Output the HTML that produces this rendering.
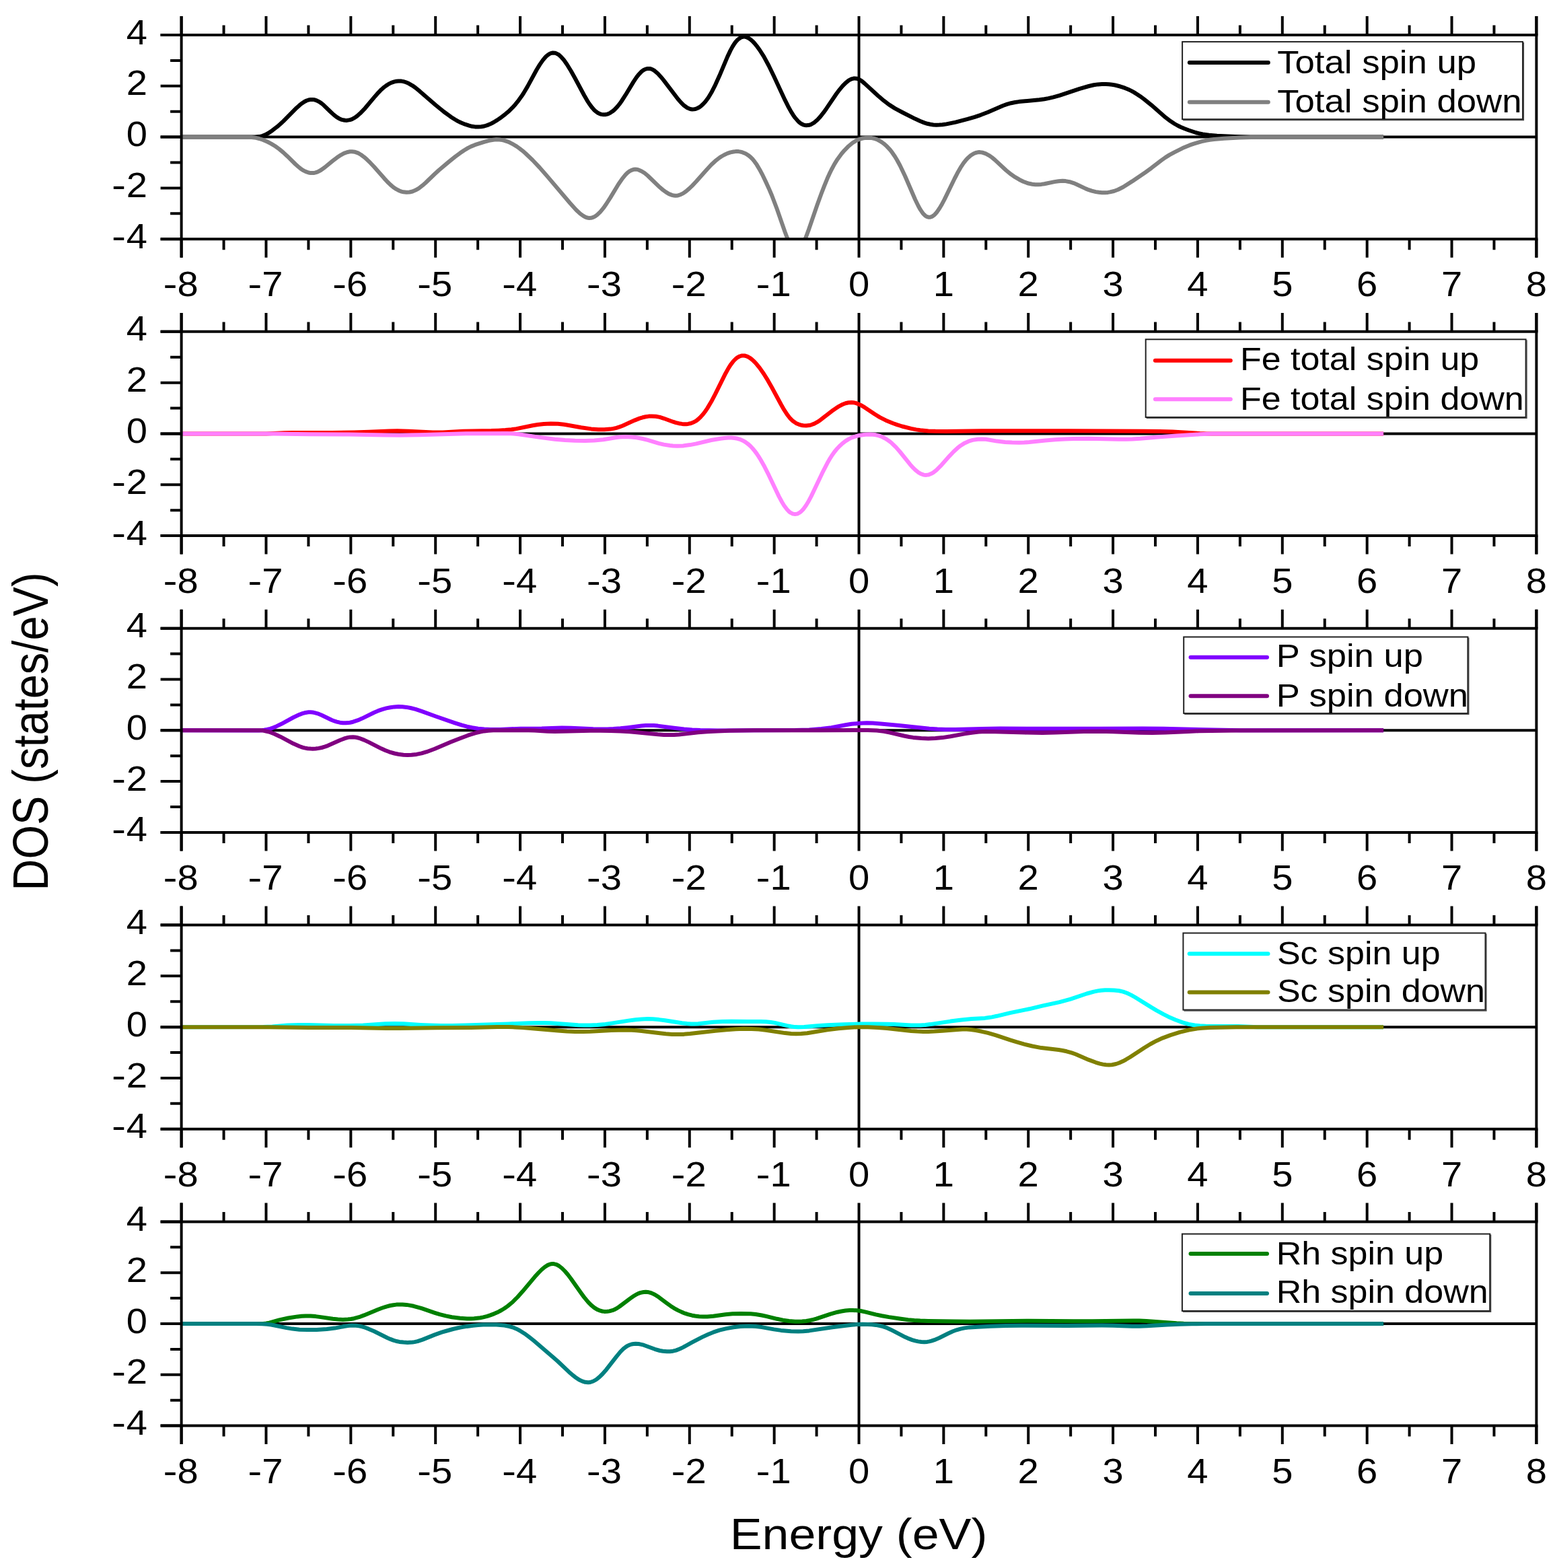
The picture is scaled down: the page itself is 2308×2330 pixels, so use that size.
<!DOCTYPE html>
<html><head><meta charset="utf-8"><title>DOS</title>
<style>html,body{margin:0;padding:0;background:#fff;}svg{display:block;}</style>
</head><body>
<svg width="2308" height="2330" viewBox="0 0 2308 2330">
<rect width="100%" height="100%" fill="#ffffff"/>
<g font-family="'Liberation Sans', Arial, sans-serif" fill="#000">
<clipPath id="c0"><rect x="269.6" y="52.0" width="2013.8" height="303.2"/></clipPath>
<line x1="238.6" y1="203.60" x2="2283.4" y2="203.60" stroke="#000" stroke-width="4.0"/>
<line x1="1276.5" y1="52.0" x2="1276.5" y2="355.2" stroke="#000" stroke-width="4.0"/>
<g clip-path="url(#c0)" fill="none" stroke-width="6.0" stroke-linejoin="round" stroke-linecap="butt">
<path d="M269.6 203.6 L379.1 203.6 L385.1 203.1 L389.6 202.1 L394.1 200.4 L398.6 198.0 L404.6 193.9 L412.1 188.2 L416.6 184.3 L421.1 180.1 L440.6 160.4 L445.1 156.4 L448.1 154.0 L452.6 151.0 L455.6 149.5 L458.6 148.5 L461.6 147.9 L464.6 147.9 L467.6 148.3 L470.6 149.3 L475.1 151.7 L478.1 153.8 L481.1 156.3 L491.6 166.5 L496.1 170.6 L500.6 174.1 L503.6 175.9 L508.1 177.9 L512.6 178.8 L515.6 178.9 L520.1 178.1 L523.1 177.1 L527.6 174.7 L530.6 172.5 L535.1 168.6 L542.6 160.8 L557.6 142.9 L562.1 137.8 L566.6 133.2 L571.1 129.3 L574.1 127.1 L577.1 125.2 L581.6 122.9 L586.1 121.4 L589.1 120.8 L592.1 120.5 L596.6 120.6 L599.6 121.1 L602.6 122.0 L607.1 123.8 L613.1 127.3 L617.6 130.5 L623.6 135.4 L647.6 156.2 L659.6 166.0 L670.1 173.7 L676.1 177.5 L680.6 180.1 L685.1 182.3 L691.1 184.7 L697.1 186.6 L701.6 187.8 L706.1 188.4 L710.6 188.6 L715.1 188.3 L719.6 187.5 L724.1 186.1 L728.6 184.3 L733.1 182.0 L739.1 178.4 L745.1 174.2 L751.1 169.6 L757.1 164.4 L761.6 159.9 L766.1 154.9 L770.6 149.3 L775.1 143.1 L778.1 138.5 L784.1 128.4 L797.6 103.5 L802.1 96.1 L806.6 89.6 L811.1 84.3 L814.1 81.7 L817.1 79.8 L818.6 79.2 L821.6 78.5 L824.6 78.7 L826.1 79.1 L829.1 80.6 L830.6 81.6 L833.6 84.2 L838.1 89.3 L842.6 95.7 L848.6 105.5 L854.6 116.3 L868.1 141.5 L872.6 149.3 L875.6 154.0 L880.1 160.1 L883.1 163.5 L884.6 164.9 L887.6 167.2 L889.1 168.1 L892.1 169.4 L893.6 169.9 L896.6 170.3 L899.6 170.2 L902.6 169.6 L904.1 169.1 L907.1 167.6 L910.1 165.6 L913.1 163.1 L917.6 158.4 L920.6 154.7 L923.6 150.5 L929.6 141.2 L941.6 121.4 L946.1 114.7 L949.1 110.8 L953.6 106.2 L956.6 104.0 L959.6 102.6 L962.6 101.9 L965.6 102.0 L967.1 102.3 L970.1 103.5 L973.1 105.4 L977.6 109.3 L982.1 114.2 L986.6 119.6 L1007.6 147.2 L1012.1 152.4 L1016.6 156.8 L1021.1 160.0 L1024.1 161.4 L1027.1 162.3 L1028.6 162.4 L1031.6 162.3 L1033.1 162.1 L1036.1 161.0 L1039.1 159.5 L1042.1 157.3 L1045.1 154.6 L1048.1 151.3 L1052.6 145.2 L1057.1 137.8 L1063.1 126.1 L1069.1 112.8 L1081.1 84.4 L1085.6 74.9 L1088.6 69.4 L1091.6 64.6 L1093.1 62.6 L1096.1 59.2 L1097.6 57.9 L1100.6 55.9 L1102.1 55.2 L1105.1 54.6 L1106.6 54.6 L1109.6 55.2 L1112.6 56.7 L1115.6 58.7 L1118.6 61.4 L1121.6 64.6 L1124.6 68.3 L1129.1 74.5 L1135.1 83.9 L1142.6 97.7 L1150.1 113.2 L1166.6 148.7 L1171.1 157.7 L1175.6 165.9 L1178.6 170.7 L1181.6 174.9 L1186.1 180.1 L1187.6 181.5 L1190.6 183.8 L1193.6 185.3 L1196.6 186.1 L1198.1 186.3 L1201.1 186.1 L1202.6 185.8 L1205.6 184.8 L1210.1 182.1 L1214.6 178.2 L1219.1 173.4 L1223.6 167.7 L1228.1 161.4 L1243.1 139.3 L1247.6 133.3 L1252.1 127.9 L1256.6 123.3 L1261.1 119.7 L1264.1 118.0 L1265.6 117.4 L1268.6 116.6 L1270.1 116.5 L1273.1 116.7 L1274.6 117.1 L1277.6 118.5 L1280.6 120.4 L1285.1 124.1 L1304.6 142.0 L1313.6 149.7 L1321.1 155.4 L1330.1 161.1 L1342.1 167.5 L1360.1 176.6 L1367.6 180.0 L1373.6 182.4 L1378.1 183.8 L1382.6 184.8 L1387.1 185.5 L1391.6 185.7 L1396.1 185.6 L1400.6 185.3 L1406.6 184.4 L1420.1 181.6 L1438.1 176.9 L1448.6 173.8 L1457.6 170.8 L1468.1 166.7 L1490.6 157.0 L1496.6 154.9 L1502.6 153.2 L1508.6 152.0 L1514.6 151.1 L1544.6 148.2 L1552.1 147.2 L1558.1 146.1 L1565.6 144.4 L1574.6 141.9 L1604.6 131.8 L1618.1 128.0 L1625.6 126.3 L1631.6 125.4 L1637.6 125.0 L1643.6 125.0 L1648.1 125.2 L1652.6 125.8 L1657.1 126.5 L1663.1 128.0 L1667.6 129.3 L1672.1 130.9 L1676.6 132.8 L1681.1 134.9 L1685.6 137.4 L1690.1 140.2 L1694.6 143.2 L1700.6 147.6 L1711.1 156.1 L1732.1 174.4 L1739.6 180.1 L1745.6 184.0 L1750.1 186.5 L1754.6 188.7 L1760.6 191.2 L1766.6 193.5 L1777.1 197.0 L1781.6 198.2 L1787.6 199.4 L1796.6 200.8 L1808.6 201.8 L1835.6 202.9 L1858.1 203.4 L1880.6 203.6 L2056.1 203.6" stroke="#000000"/>
<path d="M269.6 203.6 L367.1 203.6 L371.6 203.8 L376.1 204.2 L380.6 204.9 L385.1 206.0 L391.1 207.9 L397.1 210.5 L403.1 213.6 L409.1 217.3 L415.1 221.6 L421.1 226.6 L427.1 232.2 L439.1 244.0 L443.6 248.0 L446.6 250.4 L451.1 253.4 L454.1 254.9 L458.6 256.5 L461.6 257.1 L466.1 257.1 L469.1 256.4 L472.1 255.4 L476.6 253.0 L482.6 248.8 L494.6 238.9 L500.6 234.3 L506.6 230.3 L511.1 227.9 L515.6 226.2 L520.1 225.3 L523.1 225.2 L527.6 225.8 L532.1 227.4 L536.6 230.0 L541.1 233.3 L545.6 237.3 L550.1 241.7 L556.1 248.0 L571.1 265.1 L575.6 270.0 L580.1 274.4 L584.6 278.2 L589.1 281.2 L593.6 283.5 L596.6 284.6 L599.6 285.3 L604.1 285.8 L608.6 285.5 L613.1 284.5 L617.6 282.6 L620.6 280.9 L623.6 278.9 L628.1 275.4 L632.6 271.5 L646.1 258.5 L652.1 253.0 L667.1 240.4 L676.1 233.2 L683.6 227.6 L689.6 223.5 L695.6 219.9 L700.1 217.6 L706.1 215.2 L719.6 210.8 L727.1 208.8 L733.1 207.7 L737.6 207.3 L742.1 207.5 L746.6 208.1 L749.6 208.8 L754.1 210.3 L758.6 212.3 L763.1 214.7 L767.6 217.4 L772.1 220.6 L776.6 224.1 L781.1 228.0 L791.6 238.0 L802.1 249.1 L814.1 262.9 L847.1 301.8 L856.1 311.7 L862.1 317.4 L866.6 320.7 L869.6 322.4 L871.1 323.0 L874.1 323.8 L875.6 324.0 L878.6 323.8 L880.1 323.4 L883.1 322.2 L884.6 321.4 L887.6 319.2 L892.1 314.8 L896.6 309.4 L901.1 303.0 L907.1 293.6 L919.1 273.8 L925.1 265.1 L929.6 259.7 L932.6 256.7 L935.6 254.4 L938.6 252.8 L941.6 251.8 L943.1 251.6 L946.1 251.7 L949.1 252.4 L953.6 254.4 L958.1 257.3 L962.6 261.0 L980.6 278.3 L985.1 282.1 L989.6 285.4 L994.1 288.1 L998.6 289.9 L1001.6 290.6 L1003.1 290.7 L1004.6 290.7 L1007.6 290.4 L1010.6 289.5 L1015.1 287.4 L1019.6 284.2 L1024.1 280.4 L1028.6 276.1 L1034.6 269.8 L1051.1 251.2 L1057.1 244.8 L1063.1 239.2 L1069.1 234.5 L1072.1 232.5 L1076.6 230.0 L1081.1 227.9 L1085.6 226.4 L1090.1 225.5 L1093.1 225.1 L1097.6 225.1 L1100.6 225.6 L1103.6 226.4 L1108.1 228.3 L1112.6 231.1 L1115.6 233.6 L1118.6 236.7 L1121.6 240.4 L1124.6 244.6 L1129.1 252.2 L1133.6 260.7 L1138.1 270.1 L1142.6 279.9 L1147.1 290.5 L1154.6 310.3 L1166.6 344.7 L1169.6 352.7 L1172.6 359.8 L1175.6 365.8 L1177.1 368.2 L1178.6 370.1 L1180.1 371.6 L1181.6 372.5 L1183.1 372.9 L1184.6 372.9 L1186.1 372.2 L1187.6 371.1 L1189.1 369.5 L1192.1 364.9 L1195.1 358.8 L1198.1 351.5 L1201.1 343.4 L1214.6 304.3 L1220.6 287.8 L1225.1 276.1 L1229.6 265.1 L1232.6 258.4 L1235.6 252.2 L1240.1 243.9 L1244.6 236.7 L1250.6 228.5 L1255.1 223.3 L1261.1 217.2 L1267.1 212.3 L1271.6 209.4 L1276.1 207.3 L1279.1 206.3 L1282.1 205.5 L1286.6 204.9 L1292.6 204.8 L1295.6 205.1 L1298.6 205.7 L1303.1 207.2 L1307.6 209.5 L1310.6 211.4 L1313.6 213.6 L1318.1 217.6 L1322.6 222.4 L1325.6 226.2 L1330.1 232.7 L1333.1 237.7 L1337.6 246.0 L1345.1 261.7 L1360.1 296.5 L1364.6 305.8 L1367.6 311.2 L1370.6 315.7 L1372.1 317.6 L1375.1 320.5 L1376.6 321.5 L1378.1 322.2 L1379.6 322.7 L1381.1 322.8 L1382.6 322.7 L1384.1 322.2 L1385.6 321.5 L1388.6 319.3 L1391.6 316.2 L1396.1 309.8 L1399.1 304.8 L1403.6 296.4 L1418.6 265.5 L1423.1 256.8 L1427.6 248.9 L1432.1 242.1 L1435.1 238.3 L1438.1 234.9 L1442.6 231.0 L1447.1 228.2 L1450.1 227.0 L1453.1 226.3 L1456.1 226.1 L1460.6 226.8 L1465.1 228.4 L1469.6 230.8 L1474.1 233.9 L1478.6 237.6 L1495.1 253.0 L1502.6 259.1 L1508.6 263.2 L1514.6 266.7 L1520.6 269.7 L1526.6 272.0 L1529.6 272.8 L1534.1 273.7 L1538.6 274.2 L1543.1 274.2 L1547.6 273.9 L1552.1 273.2 L1567.1 270.1 L1573.1 269.2 L1579.1 268.8 L1583.6 269.1 L1589.6 270.2 L1595.6 272.1 L1600.1 274.0 L1613.6 280.4 L1618.1 282.2 L1622.6 283.7 L1628.6 285.1 L1633.1 285.8 L1637.6 286.2 L1642.1 286.2 L1646.6 285.9 L1649.6 285.4 L1655.6 284.0 L1661.6 281.8 L1669.1 278.0 L1682.6 269.4 L1702.1 256.2 L1711.1 249.7 L1726.1 238.1 L1732.1 233.9 L1738.1 230.1 L1745.6 226.1 L1757.6 220.1 L1768.1 215.7 L1774.1 213.6 L1780.1 211.8 L1786.1 210.2 L1792.1 208.8 L1798.1 207.8 L1804.1 207.0 L1819.1 205.7 L1841.6 204.6 L1868.6 203.8 L1883.6 203.6 L2056.1 203.6" stroke="#808080"/>
</g>
<line x1="238.6" y1="52.00" x2="2285.4" y2="52.00" stroke="#000" stroke-width="4.0"/>
<line x1="238.6" y1="355.20" x2="2285.4" y2="355.20" stroke="#000" stroke-width="4.0"/>
<line x1="269.62" y1="24.0" x2="269.62" y2="382.7" stroke="#000" stroke-width="4.0"/>
<line x1="2283.38" y1="24.0" x2="2283.38" y2="382.7" stroke="#000" stroke-width="4.0"/>
<path d="M269.62 24.0V52.0M269.62 355.2V382.7M332.55 37.5V52.0M332.55 355.2V371.2M395.48 24.0V52.0M395.48 355.2V382.7M458.41 37.5V52.0M458.41 355.2V371.2M521.34 24.0V52.0M521.34 355.2V382.7M584.27 37.5V52.0M584.27 355.2V371.2M647.20 24.0V52.0M647.20 355.2V382.7M710.13 37.5V52.0M710.13 355.2V371.2M773.06 24.0V52.0M773.06 355.2V382.7M835.99 37.5V52.0M835.99 355.2V371.2M898.92 24.0V52.0M898.92 355.2V382.7M961.85 37.5V52.0M961.85 355.2V371.2M1024.78 24.0V52.0M1024.78 355.2V382.7M1087.71 37.5V52.0M1087.71 355.2V371.2M1150.64 24.0V52.0M1150.64 355.2V382.7M1213.57 37.5V52.0M1213.57 355.2V371.2M1276.50 24.0V52.0M1276.50 355.2V382.7M1339.43 37.5V52.0M1339.43 355.2V371.2M1402.36 24.0V52.0M1402.36 355.2V382.7M1465.29 37.5V52.0M1465.29 355.2V371.2M1528.22 24.0V52.0M1528.22 355.2V382.7M1591.15 37.5V52.0M1591.15 355.2V371.2M1654.08 24.0V52.0M1654.08 355.2V382.7M1717.01 37.5V52.0M1717.01 355.2V371.2M1779.94 24.0V52.0M1779.94 355.2V382.7M1842.87 37.5V52.0M1842.87 355.2V371.2M1905.80 24.0V52.0M1905.80 355.2V382.7M1968.73 37.5V52.0M1968.73 355.2V371.2M2031.66 24.0V52.0M2031.66 355.2V382.7M2094.59 37.5V52.0M2094.59 355.2V371.2M2157.52 24.0V52.0M2157.52 355.2V382.7M2220.45 37.5V52.0M2220.45 355.2V371.2M2283.38 24.0V52.0M2283.38 355.2V382.7M238.6 355.20H269.6M253.1 317.30H269.6M238.6 279.40H269.6M253.1 241.50H269.6M238.6 203.60H269.6M253.1 165.70H269.6M238.6 127.80H269.6M253.1 89.90H269.6M238.6 52.00H269.6" stroke="#000" stroke-width="4.0" fill="none"/>
<text transform="translate(219.0 65.5) scale(1.100 1)" font-size="51.0" text-anchor="end" >4</text>
<text transform="translate(219.0 141.3) scale(1.100 1)" font-size="51.0" text-anchor="end" >2</text>
<text transform="translate(219.0 217.1) scale(1.100 1)" font-size="51.0" text-anchor="end" >0</text>
<text transform="translate(219.0 292.9) scale(1.100 1)" font-size="51.0" text-anchor="end" >2</text>
<text transform="translate(166.1 292.9) scale(1.240 1)" font-size="51.0" text-anchor="start" >-</text>
<text transform="translate(219.0 368.7) scale(1.100 1)" font-size="51.0" text-anchor="end" >4</text>
<text transform="translate(166.1 368.7) scale(1.240 1)" font-size="51.0" text-anchor="start" >-</text>
<text transform="translate(279.0 440.2) scale(1.100 1)" font-size="51.0" text-anchor="middle" >8</text>
<text transform="translate(242.4 440.2) scale(1.240 1)" font-size="51.0" text-anchor="start" >-</text>
<text transform="translate(404.9 440.2) scale(1.100 1)" font-size="51.0" text-anchor="middle" >7</text>
<text transform="translate(368.3 440.2) scale(1.240 1)" font-size="51.0" text-anchor="start" >-</text>
<text transform="translate(530.7 440.2) scale(1.100 1)" font-size="51.0" text-anchor="middle" >6</text>
<text transform="translate(494.1 440.2) scale(1.240 1)" font-size="51.0" text-anchor="start" >-</text>
<text transform="translate(656.6 440.2) scale(1.100 1)" font-size="51.0" text-anchor="middle" >5</text>
<text transform="translate(620.0 440.2) scale(1.240 1)" font-size="51.0" text-anchor="start" >-</text>
<text transform="translate(782.5 440.2) scale(1.100 1)" font-size="51.0" text-anchor="middle" >4</text>
<text transform="translate(745.9 440.2) scale(1.240 1)" font-size="51.0" text-anchor="start" >-</text>
<text transform="translate(908.3 440.2) scale(1.100 1)" font-size="51.0" text-anchor="middle" >3</text>
<text transform="translate(871.7 440.2) scale(1.240 1)" font-size="51.0" text-anchor="start" >-</text>
<text transform="translate(1034.2 440.2) scale(1.100 1)" font-size="51.0" text-anchor="middle" >2</text>
<text transform="translate(997.6 440.2) scale(1.240 1)" font-size="51.0" text-anchor="start" >-</text>
<text transform="translate(1160.0 440.2) scale(1.100 1)" font-size="51.0" text-anchor="middle" >1</text>
<text transform="translate(1123.4 440.2) scale(1.240 1)" font-size="51.0" text-anchor="start" >-</text>
<text transform="translate(1276.5 440.2) scale(1.100 1)" font-size="51.0" text-anchor="middle" >0</text>
<text transform="translate(1402.4 440.2) scale(1.100 1)" font-size="51.0" text-anchor="middle" >1</text>
<text transform="translate(1528.2 440.2) scale(1.100 1)" font-size="51.0" text-anchor="middle" >2</text>
<text transform="translate(1654.1 440.2) scale(1.100 1)" font-size="51.0" text-anchor="middle" >3</text>
<text transform="translate(1779.9 440.2) scale(1.100 1)" font-size="51.0" text-anchor="middle" >4</text>
<text transform="translate(1905.8 440.2) scale(1.100 1)" font-size="51.0" text-anchor="middle" >5</text>
<text transform="translate(2031.7 440.2) scale(1.100 1)" font-size="51.0" text-anchor="middle" >6</text>
<text transform="translate(2157.5 440.2) scale(1.100 1)" font-size="51.0" text-anchor="middle" >7</text>
<text transform="translate(2283.4 440.2) scale(1.100 1)" font-size="51.0" text-anchor="middle" >8</text>
<rect x="1757.1" y="62.1" width="505.9" height="115.1" fill="#fff" stroke="#222" stroke-width="2"/>
<path d="M1758.1 178.5H2264.3V63.1" fill="none" stroke="#444" stroke-width="1.5"/>
<line x1="1767.8" y1="93.0" x2="1884.8" y2="93.0" stroke="#000000" stroke-width="6.0" stroke-linecap="round"/>
<line x1="1767.8" y1="151.7" x2="1884.8" y2="151.7" stroke="#808080" stroke-width="6.0" stroke-linecap="round"/>
<text transform="translate(1898.2 108.9) scale(1.076 1)" font-size="49.0" text-anchor="start" >Total spin up</text>
<text transform="translate(1898.2 167.2) scale(1.076 1)" font-size="49.0" text-anchor="start" >Total spin down</text>
<clipPath id="c1"><rect x="269.6" y="492.9" width="2013.8" height="303.2"/></clipPath>
<line x1="238.6" y1="644.45" x2="2283.4" y2="644.45" stroke="#000" stroke-width="4.0"/>
<line x1="1276.5" y1="492.9" x2="1276.5" y2="796.0" stroke="#000" stroke-width="4.0"/>
<g clip-path="url(#c1)" fill="none" stroke-width="6.0" stroke-linejoin="round" stroke-linecap="butt">
<path d="M269.6 644.5 L395.6 644.4 L422.6 643.3 L434.6 643.0 L493.1 642.9 L526.1 642.5 L548.6 641.8 L578.6 640.6 L590.6 640.3 L607.1 640.7 L643.1 642.5 L658.1 642.5 L688.1 640.7 L730.1 640.1 L740.6 639.7 L751.1 639.1 L760.1 638.2 L767.6 637.1 L791.6 632.2 L799.1 631.0 L808.1 630.0 L818.6 629.6 L829.1 629.8 L838.1 630.7 L844.1 631.7 L863.6 635.3 L878.6 637.4 L889.1 638.2 L898.1 638.3 L907.1 637.6 L911.6 636.9 L916.1 635.8 L920.6 634.4 L925.1 632.7 L943.1 624.6 L950.6 621.6 L955.1 620.3 L959.6 619.3 L964.1 618.6 L968.6 618.4 L974.6 618.8 L980.6 619.9 L986.6 621.8 L1000.1 626.7 L1004.6 628.1 L1009.1 629.2 L1013.6 629.9 L1016.6 630.2 L1019.6 630.2 L1022.6 629.9 L1025.6 629.3 L1028.6 628.4 L1031.6 627.0 L1034.6 625.3 L1037.6 623.0 L1040.6 620.3 L1045.1 615.3 L1048.1 611.3 L1051.1 606.9 L1057.1 596.8 L1063.1 585.4 L1078.1 555.2 L1082.6 547.1 L1085.6 542.4 L1090.1 536.5 L1093.1 533.5 L1094.6 532.2 L1096.1 531.1 L1099.1 529.5 L1102.1 528.6 L1105.1 528.4 L1106.6 528.5 L1109.6 529.3 L1112.6 530.7 L1115.6 532.6 L1118.6 535.1 L1121.6 538.0 L1124.6 541.3 L1129.1 546.9 L1135.1 555.5 L1141.1 565.2 L1147.1 575.8 L1160.6 600.8 L1165.1 608.7 L1169.6 615.7 L1174.1 621.5 L1178.6 625.8 L1183.1 628.9 L1187.6 630.8 L1190.6 631.7 L1193.6 632.3 L1198.1 632.5 L1202.6 632.1 L1205.6 631.3 L1210.1 629.6 L1214.6 627.2 L1219.1 624.2 L1238.6 609.2 L1243.1 606.1 L1247.6 603.3 L1252.1 601.0 L1256.6 599.3 L1261.1 598.3 L1265.6 598.0 L1268.6 598.3 L1271.6 598.9 L1274.6 599.9 L1279.1 601.9 L1285.1 605.4 L1300.1 615.5 L1307.6 620.1 L1316.6 624.7 L1327.1 629.0 L1333.1 631.1 L1340.6 633.5 L1354.1 636.9 L1361.6 638.4 L1367.6 639.3 L1379.6 640.4 L1390.1 640.8 L1406.6 640.9 L1459.1 640.3 L1586.6 640.3 L1702.1 640.7 L1723.1 641.0 L1742.6 641.6 L1759.1 642.4 L1783.1 644.1 L1793.6 644.5 L2056.1 644.5" stroke="#ff0000"/>
<path d="M269.6 644.5 L403.1 644.5 L460.1 645.2 L518.6 645.6 L571.1 646.5 L593.6 646.7 L623.6 646.3 L692.6 644.3 L754.1 644.1 L763.1 644.5 L770.6 645.3 L802.1 649.9 L824.6 652.7 L839.6 654.0 L854.6 654.8 L869.6 654.9 L883.1 654.4 L896.6 653.2 L914.6 650.3 L920.6 649.6 L929.6 649.1 L938.6 649.4 L946.1 650.2 L955.1 652.0 L962.6 653.9 L979.1 658.8 L986.6 660.6 L995.6 662.0 L1000.1 662.4 L1006.1 662.7 L1015.1 662.4 L1025.6 661.1 L1034.6 659.4 L1057.1 654.0 L1070.6 651.7 L1076.6 651.0 L1082.6 650.6 L1087.1 650.6 L1091.6 651.0 L1096.1 651.8 L1100.6 653.2 L1105.1 655.2 L1108.1 657.1 L1112.6 660.5 L1115.6 663.3 L1118.6 666.5 L1121.6 670.1 L1124.6 674.1 L1127.6 678.6 L1130.6 683.5 L1135.1 691.4 L1142.6 706.2 L1157.6 737.6 L1162.1 746.0 L1165.1 751.0 L1169.6 757.0 L1172.6 760.1 L1174.1 761.3 L1177.1 763.0 L1178.6 763.6 L1181.6 764.0 L1184.6 763.6 L1186.1 763.0 L1189.1 761.2 L1190.6 760.0 L1193.6 756.9 L1198.1 750.7 L1201.1 745.8 L1205.6 737.4 L1222.1 702.7 L1229.6 688.1 L1234.1 680.3 L1237.1 675.7 L1240.1 671.5 L1243.1 667.8 L1247.6 663.0 L1252.1 658.9 L1256.6 655.4 L1261.1 652.6 L1265.6 650.4 L1270.1 648.8 L1276.1 647.2 L1282.1 646.2 L1286.6 645.8 L1292.6 645.6 L1297.1 645.8 L1301.6 646.3 L1306.1 647.4 L1310.6 649.0 L1315.1 651.3 L1318.1 653.1 L1322.6 656.3 L1325.6 658.8 L1331.6 664.6 L1337.6 671.5 L1352.6 690.2 L1357.1 695.2 L1360.1 698.1 L1364.6 701.8 L1369.1 704.3 L1372.1 705.4 L1373.6 705.7 L1376.6 705.9 L1379.6 705.5 L1381.1 705.1 L1384.1 703.8 L1387.1 702.1 L1391.6 698.6 L1397.6 692.7 L1411.1 677.6 L1417.1 671.3 L1423.1 665.7 L1427.6 662.2 L1433.6 658.4 L1439.6 655.7 L1445.6 653.9 L1453.1 652.7 L1459.1 652.4 L1465.1 652.7 L1481.6 655.6 L1493.6 657.0 L1504.1 657.6 L1514.6 657.7 L1522.1 657.5 L1529.6 657.0 L1553.6 654.5 L1568.6 653.3 L1582.1 652.5 L1595.6 651.9 L1618.1 651.7 L1663.1 652.7 L1673.6 652.7 L1682.6 652.4 L1694.6 651.7 L1723.1 649.3 L1748.6 647.6 L1783.1 645.3 L1801.1 644.6 L1819.1 644.4 L2056.1 644.5" stroke="#ff80ff"/>
</g>
<line x1="238.6" y1="492.85" x2="2285.4" y2="492.85" stroke="#000" stroke-width="4.0"/>
<line x1="238.6" y1="796.05" x2="2285.4" y2="796.05" stroke="#000" stroke-width="4.0"/>
<line x1="269.62" y1="464.9" x2="269.62" y2="823.5" stroke="#000" stroke-width="4.0"/>
<line x1="2283.38" y1="464.9" x2="2283.38" y2="823.5" stroke="#000" stroke-width="4.0"/>
<path d="M269.62 464.9V492.9M269.62 796.0V823.5M332.55 478.4V492.9M332.55 796.0V812.0M395.48 464.9V492.9M395.48 796.0V823.5M458.41 478.4V492.9M458.41 796.0V812.0M521.34 464.9V492.9M521.34 796.0V823.5M584.27 478.4V492.9M584.27 796.0V812.0M647.20 464.9V492.9M647.20 796.0V823.5M710.13 478.4V492.9M710.13 796.0V812.0M773.06 464.9V492.9M773.06 796.0V823.5M835.99 478.4V492.9M835.99 796.0V812.0M898.92 464.9V492.9M898.92 796.0V823.5M961.85 478.4V492.9M961.85 796.0V812.0M1024.78 464.9V492.9M1024.78 796.0V823.5M1087.71 478.4V492.9M1087.71 796.0V812.0M1150.64 464.9V492.9M1150.64 796.0V823.5M1213.57 478.4V492.9M1213.57 796.0V812.0M1276.50 464.9V492.9M1276.50 796.0V823.5M1339.43 478.4V492.9M1339.43 796.0V812.0M1402.36 464.9V492.9M1402.36 796.0V823.5M1465.29 478.4V492.9M1465.29 796.0V812.0M1528.22 464.9V492.9M1528.22 796.0V823.5M1591.15 478.4V492.9M1591.15 796.0V812.0M1654.08 464.9V492.9M1654.08 796.0V823.5M1717.01 478.4V492.9M1717.01 796.0V812.0M1779.94 464.9V492.9M1779.94 796.0V823.5M1842.87 478.4V492.9M1842.87 796.0V812.0M1905.80 464.9V492.9M1905.80 796.0V823.5M1968.73 478.4V492.9M1968.73 796.0V812.0M2031.66 464.9V492.9M2031.66 796.0V823.5M2094.59 478.4V492.9M2094.59 796.0V812.0M2157.52 464.9V492.9M2157.52 796.0V823.5M2220.45 478.4V492.9M2220.45 796.0V812.0M2283.38 464.9V492.9M2283.38 796.0V823.5M238.6 796.05H269.6M253.1 758.15H269.6M238.6 720.25H269.6M253.1 682.35H269.6M238.6 644.45H269.6M253.1 606.55H269.6M238.6 568.65H269.6M253.1 530.75H269.6M238.6 492.85H269.6" stroke="#000" stroke-width="4.0" fill="none"/>
<text transform="translate(219.0 506.4) scale(1.100 1)" font-size="51.0" text-anchor="end" >4</text>
<text transform="translate(219.0 582.2) scale(1.100 1)" font-size="51.0" text-anchor="end" >2</text>
<text transform="translate(219.0 658.0) scale(1.100 1)" font-size="51.0" text-anchor="end" >0</text>
<text transform="translate(219.0 733.8) scale(1.100 1)" font-size="51.0" text-anchor="end" >2</text>
<text transform="translate(166.1 733.8) scale(1.240 1)" font-size="51.0" text-anchor="start" >-</text>
<text transform="translate(219.0 809.6) scale(1.100 1)" font-size="51.0" text-anchor="end" >4</text>
<text transform="translate(166.1 809.6) scale(1.240 1)" font-size="51.0" text-anchor="start" >-</text>
<text transform="translate(279.0 881.0) scale(1.100 1)" font-size="51.0" text-anchor="middle" >8</text>
<text transform="translate(242.4 881.0) scale(1.240 1)" font-size="51.0" text-anchor="start" >-</text>
<text transform="translate(404.9 881.0) scale(1.100 1)" font-size="51.0" text-anchor="middle" >7</text>
<text transform="translate(368.3 881.0) scale(1.240 1)" font-size="51.0" text-anchor="start" >-</text>
<text transform="translate(530.7 881.0) scale(1.100 1)" font-size="51.0" text-anchor="middle" >6</text>
<text transform="translate(494.1 881.0) scale(1.240 1)" font-size="51.0" text-anchor="start" >-</text>
<text transform="translate(656.6 881.0) scale(1.100 1)" font-size="51.0" text-anchor="middle" >5</text>
<text transform="translate(620.0 881.0) scale(1.240 1)" font-size="51.0" text-anchor="start" >-</text>
<text transform="translate(782.5 881.0) scale(1.100 1)" font-size="51.0" text-anchor="middle" >4</text>
<text transform="translate(745.9 881.0) scale(1.240 1)" font-size="51.0" text-anchor="start" >-</text>
<text transform="translate(908.3 881.0) scale(1.100 1)" font-size="51.0" text-anchor="middle" >3</text>
<text transform="translate(871.7 881.0) scale(1.240 1)" font-size="51.0" text-anchor="start" >-</text>
<text transform="translate(1034.2 881.0) scale(1.100 1)" font-size="51.0" text-anchor="middle" >2</text>
<text transform="translate(997.6 881.0) scale(1.240 1)" font-size="51.0" text-anchor="start" >-</text>
<text transform="translate(1160.0 881.0) scale(1.100 1)" font-size="51.0" text-anchor="middle" >1</text>
<text transform="translate(1123.4 881.0) scale(1.240 1)" font-size="51.0" text-anchor="start" >-</text>
<text transform="translate(1276.5 881.0) scale(1.100 1)" font-size="51.0" text-anchor="middle" >0</text>
<text transform="translate(1402.4 881.0) scale(1.100 1)" font-size="51.0" text-anchor="middle" >1</text>
<text transform="translate(1528.2 881.0) scale(1.100 1)" font-size="51.0" text-anchor="middle" >2</text>
<text transform="translate(1654.1 881.0) scale(1.100 1)" font-size="51.0" text-anchor="middle" >3</text>
<text transform="translate(1779.9 881.0) scale(1.100 1)" font-size="51.0" text-anchor="middle" >4</text>
<text transform="translate(1905.8 881.0) scale(1.100 1)" font-size="51.0" text-anchor="middle" >5</text>
<text transform="translate(2031.7 881.0) scale(1.100 1)" font-size="51.0" text-anchor="middle" >6</text>
<text transform="translate(2157.5 881.0) scale(1.100 1)" font-size="51.0" text-anchor="middle" >7</text>
<text transform="translate(2283.4 881.0) scale(1.100 1)" font-size="51.0" text-anchor="middle" >8</text>
<rect x="1702.7" y="504.3" width="564.9" height="115.7" fill="#fff" stroke="#222" stroke-width="2"/>
<path d="M1703.7 621.3H2268.9V505.3" fill="none" stroke="#444" stroke-width="1.5"/>
<line x1="1716.9" y1="535.8" x2="1828.8" y2="535.8" stroke="#ff0000" stroke-width="6.0" stroke-linecap="round"/>
<line x1="1716.9" y1="593.2" x2="1828.8" y2="593.2" stroke="#ff80ff" stroke-width="6.0" stroke-linecap="round"/>
<text transform="translate(1842.9 550.4) scale(1.061 1)" font-size="49.0" text-anchor="start" >Fe total spin up</text>
<text transform="translate(1842.9 608.6) scale(1.061 1)" font-size="49.0" text-anchor="start" >Fe total spin down</text>
<clipPath id="c2"><rect x="269.6" y="933.7" width="2013.8" height="303.2"/></clipPath>
<line x1="238.6" y1="1085.30" x2="2283.4" y2="1085.30" stroke="#000" stroke-width="4.0"/>
<line x1="1276.5" y1="933.7" x2="1276.5" y2="1236.9" stroke="#000" stroke-width="4.0"/>
<g clip-path="url(#c2)" fill="none" stroke-width="6.0" stroke-linejoin="round" stroke-linecap="butt">
<path d="M269.6 1085.3 L385.1 1085.4 L389.6 1085.2 L392.6 1084.8 L397.1 1084.0 L401.6 1082.8 L406.1 1081.3 L410.6 1079.4 L418.1 1075.8 L436.1 1066.0 L445.1 1061.8 L449.6 1060.2 L452.6 1059.3 L455.6 1058.7 L458.6 1058.3 L461.6 1058.3 L464.6 1058.5 L467.6 1059.1 L472.1 1060.3 L478.1 1062.7 L493.1 1070.0 L497.6 1071.7 L500.6 1072.6 L505.1 1073.7 L509.6 1074.2 L514.1 1074.3 L517.1 1074.1 L520.1 1073.7 L524.6 1072.7 L532.1 1070.2 L538.1 1067.6 L556.1 1058.7 L562.1 1056.2 L568.1 1054.1 L574.1 1052.4 L580.1 1051.2 L586.1 1050.4 L592.1 1050.1 L598.1 1050.3 L604.1 1050.9 L610.1 1052.0 L617.6 1053.9 L626.6 1056.9 L647.6 1064.5 L676.1 1074.3 L686.6 1077.7 L694.1 1079.7 L701.6 1081.3 L710.6 1082.7 L719.6 1083.6 L728.6 1084.0 L743.6 1083.9 L773.6 1082.7 L805.1 1082.6 L835.1 1081.6 L848.6 1081.8 L881.6 1083.3 L892.1 1083.5 L902.6 1083.4 L911.6 1083.0 L922.1 1082.3 L932.6 1081.2 L953.6 1078.6 L959.6 1078.1 L965.6 1077.9 L971.6 1078.0 L977.6 1078.6 L1001.6 1081.8 L1016.6 1083.5 L1028.6 1084.4 L1040.6 1085.0 L1066.1 1085.4 L1181.6 1085.1 L1202.6 1084.5 L1220.6 1083.1 L1235.6 1081.2 L1256.6 1077.3 L1265.6 1075.8 L1277.6 1074.7 L1288.1 1074.3 L1297.1 1074.6 L1309.1 1075.4 L1336.1 1077.9 L1381.1 1082.7 L1393.1 1083.6 L1405.1 1084.0 L1420.1 1084.0 L1459.1 1082.9 L1486.1 1082.6 L1634.6 1082.7 L1697.6 1082.5 L1729.1 1082.8 L1802.6 1084.6 L1843.1 1085.2 L2056.1 1085.3" stroke="#8000ff"/>
<path d="M269.6 1085.3 L383.6 1085.2 L388.1 1085.3 L391.1 1085.6 L394.1 1086.2 L398.6 1087.2 L403.1 1088.7 L407.6 1090.5 L416.6 1094.7 L436.1 1105.1 L445.1 1109.0 L449.6 1110.6 L452.6 1111.4 L457.1 1112.2 L461.6 1112.6 L464.6 1112.7 L469.1 1112.5 L473.6 1111.9 L478.1 1111.0 L482.6 1109.7 L487.1 1108.1 L505.1 1100.0 L512.6 1097.1 L517.1 1095.9 L520.1 1095.4 L524.6 1095.2 L527.6 1095.5 L530.6 1096.0 L533.6 1096.8 L541.1 1099.6 L548.6 1103.1 L566.6 1112.3 L572.6 1115.0 L578.6 1117.3 L586.1 1119.5 L592.1 1120.8 L599.6 1121.8 L605.6 1122.0 L611.6 1121.8 L619.1 1120.9 L626.6 1119.4 L634.1 1117.2 L646.1 1112.8 L670.1 1102.6 L683.6 1097.2 L695.6 1092.7 L706.1 1089.3 L713.6 1087.5 L719.6 1086.4 L725.6 1085.7 L733.1 1085.3 L785.6 1085.3 L794.6 1085.6 L814.1 1086.7 L824.6 1087.0 L836.6 1086.8 L877.1 1085.7 L892.1 1085.7 L907.1 1085.9 L922.1 1086.5 L935.6 1087.2 L949.1 1088.4 L977.6 1091.3 L986.6 1091.9 L994.1 1092.1 L1001.6 1091.9 L1009.1 1091.4 L1037.6 1088.3 L1051.1 1087.2 L1066.1 1086.4 L1084.1 1085.8 L1120.1 1085.3 L1217.6 1085.3 L1289.6 1084.9 L1303.1 1085.6 L1313.6 1086.8 L1322.6 1088.6 L1343.6 1093.5 L1351.1 1095.0 L1357.1 1095.9 L1369.1 1097.1 L1379.6 1097.4 L1390.1 1097.1 L1400.6 1096.1 L1412.6 1094.3 L1433.6 1090.4 L1444.1 1088.8 L1454.6 1087.6 L1465.1 1087.1 L1478.6 1087.2 L1523.6 1088.6 L1549.1 1088.9 L1568.6 1088.6 L1610.6 1087.0 L1634.6 1086.8 L1654.1 1087.2 L1693.1 1088.7 L1712.6 1089.0 L1732.1 1088.6 L1766.6 1086.9 L1781.6 1086.3 L1837.1 1085.4 L2056.1 1085.3" stroke="#800080"/>
</g>
<line x1="238.6" y1="933.70" x2="2285.4" y2="933.70" stroke="#000" stroke-width="4.0"/>
<line x1="238.6" y1="1236.90" x2="2285.4" y2="1236.90" stroke="#000" stroke-width="4.0"/>
<line x1="269.62" y1="905.7" x2="269.62" y2="1264.4" stroke="#000" stroke-width="4.0"/>
<line x1="2283.38" y1="905.7" x2="2283.38" y2="1264.4" stroke="#000" stroke-width="4.0"/>
<path d="M269.62 905.7V933.7M269.62 1236.9V1264.4M332.55 919.2V933.7M332.55 1236.9V1252.9M395.48 905.7V933.7M395.48 1236.9V1264.4M458.41 919.2V933.7M458.41 1236.9V1252.9M521.34 905.7V933.7M521.34 1236.9V1264.4M584.27 919.2V933.7M584.27 1236.9V1252.9M647.20 905.7V933.7M647.20 1236.9V1264.4M710.13 919.2V933.7M710.13 1236.9V1252.9M773.06 905.7V933.7M773.06 1236.9V1264.4M835.99 919.2V933.7M835.99 1236.9V1252.9M898.92 905.7V933.7M898.92 1236.9V1264.4M961.85 919.2V933.7M961.85 1236.9V1252.9M1024.78 905.7V933.7M1024.78 1236.9V1264.4M1087.71 919.2V933.7M1087.71 1236.9V1252.9M1150.64 905.7V933.7M1150.64 1236.9V1264.4M1213.57 919.2V933.7M1213.57 1236.9V1252.9M1276.50 905.7V933.7M1276.50 1236.9V1264.4M1339.43 919.2V933.7M1339.43 1236.9V1252.9M1402.36 905.7V933.7M1402.36 1236.9V1264.4M1465.29 919.2V933.7M1465.29 1236.9V1252.9M1528.22 905.7V933.7M1528.22 1236.9V1264.4M1591.15 919.2V933.7M1591.15 1236.9V1252.9M1654.08 905.7V933.7M1654.08 1236.9V1264.4M1717.01 919.2V933.7M1717.01 1236.9V1252.9M1779.94 905.7V933.7M1779.94 1236.9V1264.4M1842.87 919.2V933.7M1842.87 1236.9V1252.9M1905.80 905.7V933.7M1905.80 1236.9V1264.4M1968.73 919.2V933.7M1968.73 1236.9V1252.9M2031.66 905.7V933.7M2031.66 1236.9V1264.4M2094.59 919.2V933.7M2094.59 1236.9V1252.9M2157.52 905.7V933.7M2157.52 1236.9V1264.4M2220.45 919.2V933.7M2220.45 1236.9V1252.9M2283.38 905.7V933.7M2283.38 1236.9V1264.4M238.6 1236.90H269.6M253.1 1199.00H269.6M238.6 1161.10H269.6M253.1 1123.20H269.6M238.6 1085.30H269.6M253.1 1047.40H269.6M238.6 1009.50H269.6M253.1 971.60H269.6M238.6 933.70H269.6" stroke="#000" stroke-width="4.0" fill="none"/>
<text transform="translate(219.0 947.2) scale(1.100 1)" font-size="51.0" text-anchor="end" >4</text>
<text transform="translate(219.0 1023.0) scale(1.100 1)" font-size="51.0" text-anchor="end" >2</text>
<text transform="translate(219.0 1098.8) scale(1.100 1)" font-size="51.0" text-anchor="end" >0</text>
<text transform="translate(219.0 1174.6) scale(1.100 1)" font-size="51.0" text-anchor="end" >2</text>
<text transform="translate(166.1 1174.6) scale(1.240 1)" font-size="51.0" text-anchor="start" >-</text>
<text transform="translate(219.0 1250.4) scale(1.100 1)" font-size="51.0" text-anchor="end" >4</text>
<text transform="translate(166.1 1250.4) scale(1.240 1)" font-size="51.0" text-anchor="start" >-</text>
<text transform="translate(279.0 1321.9) scale(1.100 1)" font-size="51.0" text-anchor="middle" >8</text>
<text transform="translate(242.4 1321.9) scale(1.240 1)" font-size="51.0" text-anchor="start" >-</text>
<text transform="translate(404.9 1321.9) scale(1.100 1)" font-size="51.0" text-anchor="middle" >7</text>
<text transform="translate(368.3 1321.9) scale(1.240 1)" font-size="51.0" text-anchor="start" >-</text>
<text transform="translate(530.7 1321.9) scale(1.100 1)" font-size="51.0" text-anchor="middle" >6</text>
<text transform="translate(494.1 1321.9) scale(1.240 1)" font-size="51.0" text-anchor="start" >-</text>
<text transform="translate(656.6 1321.9) scale(1.100 1)" font-size="51.0" text-anchor="middle" >5</text>
<text transform="translate(620.0 1321.9) scale(1.240 1)" font-size="51.0" text-anchor="start" >-</text>
<text transform="translate(782.5 1321.9) scale(1.100 1)" font-size="51.0" text-anchor="middle" >4</text>
<text transform="translate(745.9 1321.9) scale(1.240 1)" font-size="51.0" text-anchor="start" >-</text>
<text transform="translate(908.3 1321.9) scale(1.100 1)" font-size="51.0" text-anchor="middle" >3</text>
<text transform="translate(871.7 1321.9) scale(1.240 1)" font-size="51.0" text-anchor="start" >-</text>
<text transform="translate(1034.2 1321.9) scale(1.100 1)" font-size="51.0" text-anchor="middle" >2</text>
<text transform="translate(997.6 1321.9) scale(1.240 1)" font-size="51.0" text-anchor="start" >-</text>
<text transform="translate(1160.0 1321.9) scale(1.100 1)" font-size="51.0" text-anchor="middle" >1</text>
<text transform="translate(1123.4 1321.9) scale(1.240 1)" font-size="51.0" text-anchor="start" >-</text>
<text transform="translate(1276.5 1321.9) scale(1.100 1)" font-size="51.0" text-anchor="middle" >0</text>
<text transform="translate(1402.4 1321.9) scale(1.100 1)" font-size="51.0" text-anchor="middle" >1</text>
<text transform="translate(1528.2 1321.9) scale(1.100 1)" font-size="51.0" text-anchor="middle" >2</text>
<text transform="translate(1654.1 1321.9) scale(1.100 1)" font-size="51.0" text-anchor="middle" >3</text>
<text transform="translate(1779.9 1321.9) scale(1.100 1)" font-size="51.0" text-anchor="middle" >4</text>
<text transform="translate(1905.8 1321.9) scale(1.100 1)" font-size="51.0" text-anchor="middle" >5</text>
<text transform="translate(2031.7 1321.9) scale(1.100 1)" font-size="51.0" text-anchor="middle" >6</text>
<text transform="translate(2157.5 1321.9) scale(1.100 1)" font-size="51.0" text-anchor="middle" >7</text>
<text transform="translate(2283.4 1321.9) scale(1.100 1)" font-size="51.0" text-anchor="middle" >8</text>
<rect x="1759.2" y="946.5" width="422.2" height="113.5" fill="#fff" stroke="#222" stroke-width="2"/>
<path d="M1760.2 1061.3H2182.7V947.5" fill="none" stroke="#444" stroke-width="1.5"/>
<line x1="1769.5" y1="976.8" x2="1883.0" y2="976.8" stroke="#8000ff" stroke-width="6.0" stroke-linecap="round"/>
<line x1="1769.5" y1="1034.2" x2="1883.0" y2="1034.2" stroke="#800080" stroke-width="6.0" stroke-linecap="round"/>
<text transform="translate(1896.7 990.5) scale(1.073 1)" font-size="49.0" text-anchor="start" >P spin up</text>
<text transform="translate(1896.7 1049.5) scale(1.073 1)" font-size="49.0" text-anchor="start" >P spin down</text>
<clipPath id="c3"><rect x="269.6" y="1374.6" width="2013.8" height="303.2"/></clipPath>
<line x1="238.6" y1="1526.15" x2="2283.4" y2="1526.15" stroke="#000" stroke-width="4.0"/>
<line x1="1276.5" y1="1374.6" x2="1276.5" y2="1677.8" stroke="#000" stroke-width="4.0"/>
<g clip-path="url(#c3)" fill="none" stroke-width="6.0" stroke-linejoin="round" stroke-linecap="butt">
<path d="M269.6 1526.2 L391.1 1526.1 L404.6 1525.5 L427.1 1523.5 L443.6 1523.0 L458.6 1523.1 L496.1 1524.1 L520.1 1524.1 L539.6 1523.5 L572.6 1521.3 L586.1 1520.9 L599.6 1521.3 L625.1 1522.9 L638.6 1523.5 L655.1 1523.9 L671.6 1523.9 L691.1 1523.5 L755.6 1521.4 L785.6 1520.2 L800.6 1519.9 L809.6 1520.0 L818.6 1520.3 L859.1 1523.2 L868.1 1523.6 L877.1 1523.6 L887.6 1523.1 L899.6 1521.9 L910.1 1520.4 L934.1 1516.6 L944.6 1515.2 L953.6 1514.4 L962.6 1514.1 L970.1 1514.3 L979.1 1515.1 L988.1 1516.3 L1013.6 1520.3 L1021.1 1521.1 L1027.1 1521.4 L1031.6 1521.5 L1037.6 1521.2 L1060.1 1518.7 L1073.6 1517.9 L1087.1 1517.7 L1111.1 1518.1 L1130.6 1518.1 L1138.1 1518.3 L1145.6 1519.0 L1151.6 1519.9 L1169.6 1524.1 L1175.6 1525.3 L1181.6 1526.1 L1186.1 1526.3 L1195.1 1526.1 L1214.6 1524.2 L1229.6 1523.2 L1253.6 1522.3 L1279.1 1521.6 L1298.6 1521.5 L1318.1 1521.7 L1328.6 1522.1 L1354.1 1523.5 L1361.6 1523.6 L1367.6 1523.5 L1375.1 1523.0 L1382.6 1522.1 L1412.6 1517.6 L1429.1 1515.5 L1444.1 1514.1 L1463.6 1512.9 L1468.1 1512.3 L1474.1 1511.4 L1481.6 1509.8 L1501.1 1505.1 L1529.6 1499.3 L1549.1 1494.7 L1574.6 1489.1 L1591.1 1484.6 L1615.1 1476.5 L1625.6 1473.6 L1631.6 1472.4 L1636.1 1471.7 L1642.1 1471.3 L1648.1 1471.2 L1655.6 1471.4 L1663.1 1472.3 L1669.1 1473.6 L1675.1 1475.8 L1681.1 1478.6 L1687.1 1482.0 L1711.1 1496.9 L1718.6 1501.3 L1729.1 1507.1 L1736.6 1510.9 L1747.1 1515.5 L1757.6 1519.4 L1766.6 1521.9 L1775.6 1523.5 L1783.1 1524.3 L1792.1 1524.7 L1811.6 1525.0 L1840.1 1525.0 L1868.6 1526.2 L2056.1 1526.2" stroke="#00ffff"/>
<path d="M269.6 1526.2 L400.1 1526.2 L458.6 1526.9 L521.6 1526.9 L574.1 1527.9 L593.6 1528.0 L649.1 1527.3 L700.1 1527.1 L739.1 1526.1 L755.6 1526.1 L766.1 1526.4 L776.6 1527.0 L829.1 1531.5 L842.6 1532.4 L854.6 1532.9 L866.6 1533.1 L877.1 1532.8 L908.6 1531.1 L919.1 1530.7 L929.6 1530.6 L938.6 1530.8 L946.1 1531.3 L953.6 1532.0 L980.6 1535.3 L989.6 1536.3 L998.6 1536.9 L1006.1 1537.1 L1015.1 1536.9 L1025.6 1536.1 L1063.1 1531.8 L1079.6 1530.2 L1093.1 1529.2 L1105.1 1528.8 L1117.1 1528.9 L1127.6 1529.6 L1138.1 1530.8 L1166.6 1535.1 L1175.6 1536.0 L1183.1 1536.3 L1190.6 1536.1 L1199.6 1535.2 L1229.6 1530.3 L1246.1 1528.2 L1261.1 1526.9 L1274.6 1526.2 L1289.6 1526.2 L1304.6 1526.9 L1318.1 1528.0 L1354.1 1531.9 L1363.1 1532.5 L1372.1 1532.9 L1379.6 1532.9 L1388.6 1532.6 L1400.6 1531.8 L1423.1 1529.9 L1430.6 1529.6 L1436.6 1529.6 L1442.6 1530.0 L1450.1 1531.0 L1459.1 1532.8 L1468.1 1534.9 L1480.1 1538.3 L1501.1 1545.4 L1510.1 1548.2 L1522.1 1551.6 L1534.1 1554.5 L1547.6 1557.1 L1573.1 1560.0 L1579.1 1561.0 L1585.1 1562.3 L1592.6 1564.4 L1598.6 1566.5 L1618.1 1574.9 L1628.6 1578.8 L1634.6 1580.6 L1639.1 1581.6 L1643.6 1582.3 L1648.1 1582.5 L1652.6 1582.2 L1658.6 1581.0 L1663.1 1579.5 L1669.1 1576.8 L1673.6 1574.3 L1679.6 1570.7 L1700.6 1557.0 L1709.6 1551.5 L1718.6 1546.7 L1727.6 1542.6 L1739.6 1538.1 L1753.1 1533.9 L1766.6 1530.5 L1777.1 1528.7 L1786.1 1527.7 L1798.1 1527.0 L1837.1 1526.2 L2056.1 1526.2" stroke="#808000"/>
</g>
<line x1="238.6" y1="1374.55" x2="2285.4" y2="1374.55" stroke="#000" stroke-width="4.0"/>
<line x1="238.6" y1="1677.75" x2="2285.4" y2="1677.75" stroke="#000" stroke-width="4.0"/>
<line x1="269.62" y1="1346.6" x2="269.62" y2="1705.3" stroke="#000" stroke-width="4.0"/>
<line x1="2283.38" y1="1346.6" x2="2283.38" y2="1705.3" stroke="#000" stroke-width="4.0"/>
<path d="M269.62 1346.6V1374.6M269.62 1677.8V1705.3M332.55 1360.1V1374.6M332.55 1677.8V1693.8M395.48 1346.6V1374.6M395.48 1677.8V1705.3M458.41 1360.1V1374.6M458.41 1677.8V1693.8M521.34 1346.6V1374.6M521.34 1677.8V1705.3M584.27 1360.1V1374.6M584.27 1677.8V1693.8M647.20 1346.6V1374.6M647.20 1677.8V1705.3M710.13 1360.1V1374.6M710.13 1677.8V1693.8M773.06 1346.6V1374.6M773.06 1677.8V1705.3M835.99 1360.1V1374.6M835.99 1677.8V1693.8M898.92 1346.6V1374.6M898.92 1677.8V1705.3M961.85 1360.1V1374.6M961.85 1677.8V1693.8M1024.78 1346.6V1374.6M1024.78 1677.8V1705.3M1087.71 1360.1V1374.6M1087.71 1677.8V1693.8M1150.64 1346.6V1374.6M1150.64 1677.8V1705.3M1213.57 1360.1V1374.6M1213.57 1677.8V1693.8M1276.50 1346.6V1374.6M1276.50 1677.8V1705.3M1339.43 1360.1V1374.6M1339.43 1677.8V1693.8M1402.36 1346.6V1374.6M1402.36 1677.8V1705.3M1465.29 1360.1V1374.6M1465.29 1677.8V1693.8M1528.22 1346.6V1374.6M1528.22 1677.8V1705.3M1591.15 1360.1V1374.6M1591.15 1677.8V1693.8M1654.08 1346.6V1374.6M1654.08 1677.8V1705.3M1717.01 1360.1V1374.6M1717.01 1677.8V1693.8M1779.94 1346.6V1374.6M1779.94 1677.8V1705.3M1842.87 1360.1V1374.6M1842.87 1677.8V1693.8M1905.80 1346.6V1374.6M1905.80 1677.8V1705.3M1968.73 1360.1V1374.6M1968.73 1677.8V1693.8M2031.66 1346.6V1374.6M2031.66 1677.8V1705.3M2094.59 1360.1V1374.6M2094.59 1677.8V1693.8M2157.52 1346.6V1374.6M2157.52 1677.8V1705.3M2220.45 1360.1V1374.6M2220.45 1677.8V1693.8M2283.38 1346.6V1374.6M2283.38 1677.8V1705.3M238.6 1677.75H269.6M253.1 1639.85H269.6M238.6 1601.95H269.6M253.1 1564.05H269.6M238.6 1526.15H269.6M253.1 1488.25H269.6M238.6 1450.35H269.6M253.1 1412.45H269.6M238.6 1374.55H269.6" stroke="#000" stroke-width="4.0" fill="none"/>
<text transform="translate(219.0 1388.1) scale(1.100 1)" font-size="51.0" text-anchor="end" >4</text>
<text transform="translate(219.0 1463.9) scale(1.100 1)" font-size="51.0" text-anchor="end" >2</text>
<text transform="translate(219.0 1539.7) scale(1.100 1)" font-size="51.0" text-anchor="end" >0</text>
<text transform="translate(219.0 1615.5) scale(1.100 1)" font-size="51.0" text-anchor="end" >2</text>
<text transform="translate(166.1 1615.5) scale(1.240 1)" font-size="51.0" text-anchor="start" >-</text>
<text transform="translate(219.0 1691.2) scale(1.100 1)" font-size="51.0" text-anchor="end" >4</text>
<text transform="translate(166.1 1691.2) scale(1.240 1)" font-size="51.0" text-anchor="start" >-</text>
<text transform="translate(279.0 1762.8) scale(1.100 1)" font-size="51.0" text-anchor="middle" >8</text>
<text transform="translate(242.4 1762.8) scale(1.240 1)" font-size="51.0" text-anchor="start" >-</text>
<text transform="translate(404.9 1762.8) scale(1.100 1)" font-size="51.0" text-anchor="middle" >7</text>
<text transform="translate(368.3 1762.8) scale(1.240 1)" font-size="51.0" text-anchor="start" >-</text>
<text transform="translate(530.7 1762.8) scale(1.100 1)" font-size="51.0" text-anchor="middle" >6</text>
<text transform="translate(494.1 1762.8) scale(1.240 1)" font-size="51.0" text-anchor="start" >-</text>
<text transform="translate(656.6 1762.8) scale(1.100 1)" font-size="51.0" text-anchor="middle" >5</text>
<text transform="translate(620.0 1762.8) scale(1.240 1)" font-size="51.0" text-anchor="start" >-</text>
<text transform="translate(782.5 1762.8) scale(1.100 1)" font-size="51.0" text-anchor="middle" >4</text>
<text transform="translate(745.9 1762.8) scale(1.240 1)" font-size="51.0" text-anchor="start" >-</text>
<text transform="translate(908.3 1762.8) scale(1.100 1)" font-size="51.0" text-anchor="middle" >3</text>
<text transform="translate(871.7 1762.8) scale(1.240 1)" font-size="51.0" text-anchor="start" >-</text>
<text transform="translate(1034.2 1762.8) scale(1.100 1)" font-size="51.0" text-anchor="middle" >2</text>
<text transform="translate(997.6 1762.8) scale(1.240 1)" font-size="51.0" text-anchor="start" >-</text>
<text transform="translate(1160.0 1762.8) scale(1.100 1)" font-size="51.0" text-anchor="middle" >1</text>
<text transform="translate(1123.4 1762.8) scale(1.240 1)" font-size="51.0" text-anchor="start" >-</text>
<text transform="translate(1276.5 1762.8) scale(1.100 1)" font-size="51.0" text-anchor="middle" >0</text>
<text transform="translate(1402.4 1762.8) scale(1.100 1)" font-size="51.0" text-anchor="middle" >1</text>
<text transform="translate(1528.2 1762.8) scale(1.100 1)" font-size="51.0" text-anchor="middle" >2</text>
<text transform="translate(1654.1 1762.8) scale(1.100 1)" font-size="51.0" text-anchor="middle" >3</text>
<text transform="translate(1779.9 1762.8) scale(1.100 1)" font-size="51.0" text-anchor="middle" >4</text>
<text transform="translate(1905.8 1762.8) scale(1.100 1)" font-size="51.0" text-anchor="middle" >5</text>
<text transform="translate(2031.7 1762.8) scale(1.100 1)" font-size="51.0" text-anchor="middle" >6</text>
<text transform="translate(2157.5 1762.8) scale(1.100 1)" font-size="51.0" text-anchor="middle" >7</text>
<text transform="translate(2283.4 1762.8) scale(1.100 1)" font-size="51.0" text-anchor="middle" >8</text>
<rect x="1758.4" y="1386.5" width="449.1" height="114.1" fill="#fff" stroke="#222" stroke-width="2"/>
<path d="M1759.4 1501.9H2208.8V1387.5" fill="none" stroke="#444" stroke-width="1.5"/>
<line x1="1767.7" y1="1417.3" x2="1884.5" y2="1417.3" stroke="#00ffff" stroke-width="6.0" stroke-linecap="round"/>
<line x1="1767.7" y1="1474.5" x2="1884.5" y2="1474.5" stroke="#808000" stroke-width="6.0" stroke-linecap="round"/>
<text transform="translate(1897.9 1432.6) scale(1.061 1)" font-size="49.0" text-anchor="start" >Sc spin up</text>
<text transform="translate(1897.9 1489.4) scale(1.061 1)" font-size="49.0" text-anchor="start" >Sc spin down</text>
<clipPath id="c4"><rect x="269.6" y="1815.4" width="2013.8" height="303.2"/></clipPath>
<line x1="238.6" y1="1967.00" x2="2283.4" y2="1967.00" stroke="#000" stroke-width="4.0"/>
<line x1="1276.5" y1="1815.4" x2="1276.5" y2="2118.6" stroke="#000" stroke-width="4.0"/>
<g clip-path="url(#c4)" fill="none" stroke-width="6.0" stroke-linejoin="round" stroke-linecap="butt">
<path d="M269.6 1967.0 L385.1 1967.0 L391.1 1966.9 L395.6 1966.5 L400.1 1965.6 L415.1 1961.4 L428.6 1958.5 L442.1 1956.4 L448.1 1955.8 L454.1 1955.5 L461.6 1955.6 L469.1 1956.1 L476.6 1957.1 L494.6 1959.8 L502.1 1960.6 L509.6 1960.9 L517.1 1960.5 L521.6 1960.0 L526.1 1959.2 L533.6 1957.2 L541.1 1954.4 L562.1 1945.7 L568.1 1943.5 L574.1 1941.6 L580.1 1940.0 L584.6 1939.2 L589.1 1938.6 L593.6 1938.4 L598.1 1938.4 L604.1 1938.9 L608.6 1939.6 L614.6 1940.8 L626.6 1944.2 L646.1 1950.8 L653.6 1953.2 L662.6 1955.4 L671.6 1957.2 L683.6 1958.8 L694.1 1959.5 L700.1 1959.5 L704.6 1959.3 L713.6 1958.3 L718.1 1957.4 L724.1 1955.9 L728.6 1954.4 L734.6 1952.1 L740.6 1949.4 L745.1 1947.0 L749.6 1944.3 L754.1 1941.1 L761.6 1935.0 L769.1 1927.5 L776.6 1919.1 L794.6 1897.6 L800.6 1891.0 L805.1 1886.5 L809.6 1882.7 L814.1 1879.9 L817.1 1878.7 L818.6 1878.3 L821.6 1878.0 L823.1 1878.1 L826.1 1878.8 L827.6 1879.4 L830.6 1881.0 L835.1 1884.5 L839.6 1889.0 L844.1 1894.3 L848.6 1900.2 L863.6 1921.5 L868.1 1927.6 L874.1 1934.8 L878.6 1939.4 L883.1 1943.1 L887.6 1945.9 L892.1 1947.7 L895.1 1948.5 L898.1 1948.9 L902.6 1948.8 L905.6 1948.4 L910.1 1947.2 L913.1 1946.0 L916.1 1944.4 L920.6 1941.5 L937.1 1929.1 L941.6 1926.0 L944.6 1924.2 L949.1 1921.9 L952.1 1920.9 L956.6 1920.0 L959.6 1919.8 L962.6 1920.0 L965.6 1920.6 L968.6 1921.6 L973.1 1923.7 L979.1 1927.6 L991.1 1936.6 L997.1 1940.9 L1001.6 1943.8 L1007.6 1947.1 L1013.6 1949.9 L1018.1 1951.7 L1022.6 1953.2 L1028.6 1954.7 L1033.1 1955.5 L1039.1 1956.2 L1045.1 1956.5 L1051.1 1956.5 L1060.1 1955.8 L1078.1 1953.3 L1088.6 1952.3 L1100.6 1951.9 L1115.6 1952.3 L1123.1 1953.0 L1132.1 1954.5 L1139.6 1956.1 L1154.6 1959.8 L1163.6 1961.7 L1172.6 1963.0 L1181.6 1963.7 L1187.6 1963.7 L1192.1 1963.6 L1198.1 1963.0 L1202.6 1962.2 L1207.1 1961.3 L1213.1 1959.6 L1234.1 1952.6 L1244.6 1949.7 L1250.6 1948.5 L1256.6 1947.5 L1262.6 1947.0 L1267.1 1946.9 L1273.1 1947.2 L1279.1 1948.0 L1286.6 1949.6 L1301.6 1953.4 L1310.6 1955.3 L1321.1 1957.1 L1340.6 1960.0 L1349.6 1961.2 L1358.6 1962.1 L1367.6 1962.6 L1379.6 1963.0 L1417.1 1963.6 L1441.1 1963.7 L1528.1 1962.8 L1595.6 1963.2 L1622.6 1963.2 L1684.1 1962.4 L1693.1 1962.5 L1703.6 1963.0 L1748.6 1966.3 L1759.1 1966.8 L1771.1 1967.0 L2056.1 1967.0" stroke="#008000"/>
<path d="M269.6 1967.0 L380.6 1967.0 L389.6 1967.2 L397.1 1967.7 L403.1 1968.5 L425.6 1973.1 L434.6 1974.6 L445.1 1975.7 L457.1 1976.1 L470.6 1976.0 L485.6 1975.0 L497.6 1973.6 L511.1 1971.0 L517.1 1970.1 L523.1 1969.6 L529.1 1969.7 L533.6 1970.4 L538.1 1971.4 L542.6 1972.7 L547.1 1974.4 L556.1 1978.3 L575.6 1988.0 L580.1 1989.9 L584.6 1991.6 L589.1 1993.0 L593.6 1993.9 L599.6 1994.6 L605.6 1994.9 L613.1 1994.5 L616.1 1994.1 L620.6 1993.1 L628.1 1990.6 L646.1 1983.4 L656.6 1979.7 L664.1 1977.5 L673.1 1975.0 L680.6 1973.3 L686.6 1972.1 L694.1 1970.9 L703.1 1969.8 L710.6 1969.1 L718.1 1968.6 L727.1 1968.5 L737.6 1968.6 L743.6 1968.9 L749.6 1969.5 L757.1 1971.0 L761.6 1972.3 L764.6 1973.4 L767.6 1974.7 L772.1 1977.0 L779.6 1981.7 L785.6 1986.1 L793.1 1992.0 L823.1 2017.7 L829.1 2023.0 L845.6 2038.7 L850.1 2042.6 L854.6 2046.2 L860.6 2050.2 L865.1 2052.4 L869.6 2053.8 L874.1 2054.3 L877.1 2054.0 L881.6 2052.5 L886.1 2050.0 L890.6 2046.4 L895.1 2042.0 L901.1 2035.2 L916.1 2015.8 L922.1 2008.6 L926.6 2004.2 L929.6 2001.8 L932.6 1999.9 L935.6 1998.5 L938.6 1997.5 L941.6 1997.0 L944.6 1996.8 L949.1 1997.0 L952.1 1997.6 L956.6 1998.7 L973.1 2004.8 L980.6 2007.0 L985.1 2007.8 L991.1 2008.3 L995.6 2008.2 L1000.1 2007.7 L1004.6 2006.6 L1010.6 2004.3 L1015.1 2002.1 L1028.6 1994.7 L1043.6 1986.9 L1052.6 1982.7 L1060.1 1979.7 L1069.1 1976.7 L1079.6 1974.1 L1090.1 1972.2 L1100.6 1971.0 L1106.6 1970.7 L1112.6 1970.6 L1123.1 1971.1 L1132.1 1972.1 L1150.1 1975.4 L1160.6 1976.9 L1175.6 1978.2 L1186.1 1978.5 L1193.6 1978.2 L1202.6 1977.4 L1237.1 1972.2 L1255.1 1969.9 L1265.6 1968.7 L1274.6 1968.0 L1282.1 1967.8 L1289.6 1967.9 L1295.6 1968.2 L1301.6 1968.9 L1307.6 1970.0 L1312.1 1971.1 L1316.6 1972.6 L1324.1 1975.9 L1345.1 1986.8 L1351.1 1989.4 L1355.6 1991.1 L1360.1 1992.4 L1364.6 1993.4 L1369.1 1994.0 L1373.6 1994.2 L1378.1 1993.9 L1381.1 1993.4 L1384.1 1992.7 L1388.6 1991.2 L1396.1 1988.0 L1409.6 1981.3 L1415.6 1978.5 L1421.6 1976.3 L1427.6 1974.6 L1433.6 1973.4 L1441.1 1972.4 L1453.1 1971.7 L1472.6 1970.8 L1495.1 1970.1 L1517.6 1969.7 L1586.6 1970.0 L1637.6 1969.5 L1654.1 1969.7 L1682.6 1970.7 L1693.1 1970.7 L1705.1 1970.3 L1735.1 1968.6 L1753.1 1967.8 L1771.1 1967.3 L1792.1 1967.0 L2056.1 1967.0" stroke="#008080"/>
</g>
<line x1="238.6" y1="1815.40" x2="2285.4" y2="1815.40" stroke="#000" stroke-width="4.0"/>
<line x1="238.6" y1="2118.60" x2="2285.4" y2="2118.60" stroke="#000" stroke-width="4.0"/>
<line x1="269.62" y1="1787.4" x2="269.62" y2="2146.1" stroke="#000" stroke-width="4.0"/>
<line x1="2283.38" y1="1787.4" x2="2283.38" y2="2146.1" stroke="#000" stroke-width="4.0"/>
<path d="M269.62 1787.4V1815.4M269.62 2118.6V2146.1M332.55 1800.9V1815.4M332.55 2118.6V2134.6M395.48 1787.4V1815.4M395.48 2118.6V2146.1M458.41 1800.9V1815.4M458.41 2118.6V2134.6M521.34 1787.4V1815.4M521.34 2118.6V2146.1M584.27 1800.9V1815.4M584.27 2118.6V2134.6M647.20 1787.4V1815.4M647.20 2118.6V2146.1M710.13 1800.9V1815.4M710.13 2118.6V2134.6M773.06 1787.4V1815.4M773.06 2118.6V2146.1M835.99 1800.9V1815.4M835.99 2118.6V2134.6M898.92 1787.4V1815.4M898.92 2118.6V2146.1M961.85 1800.9V1815.4M961.85 2118.6V2134.6M1024.78 1787.4V1815.4M1024.78 2118.6V2146.1M1087.71 1800.9V1815.4M1087.71 2118.6V2134.6M1150.64 1787.4V1815.4M1150.64 2118.6V2146.1M1213.57 1800.9V1815.4M1213.57 2118.6V2134.6M1276.50 1787.4V1815.4M1276.50 2118.6V2146.1M1339.43 1800.9V1815.4M1339.43 2118.6V2134.6M1402.36 1787.4V1815.4M1402.36 2118.6V2146.1M1465.29 1800.9V1815.4M1465.29 2118.6V2134.6M1528.22 1787.4V1815.4M1528.22 2118.6V2146.1M1591.15 1800.9V1815.4M1591.15 2118.6V2134.6M1654.08 1787.4V1815.4M1654.08 2118.6V2146.1M1717.01 1800.9V1815.4M1717.01 2118.6V2134.6M1779.94 1787.4V1815.4M1779.94 2118.6V2146.1M1842.87 1800.9V1815.4M1842.87 2118.6V2134.6M1905.80 1787.4V1815.4M1905.80 2118.6V2146.1M1968.73 1800.9V1815.4M1968.73 2118.6V2134.6M2031.66 1787.4V1815.4M2031.66 2118.6V2146.1M2094.59 1800.9V1815.4M2094.59 2118.6V2134.6M2157.52 1787.4V1815.4M2157.52 2118.6V2146.1M2220.45 1800.9V1815.4M2220.45 2118.6V2134.6M2283.38 1787.4V1815.4M2283.38 2118.6V2146.1M238.6 2118.60H269.6M253.1 2080.70H269.6M238.6 2042.80H269.6M253.1 2004.90H269.6M238.6 1967.00H269.6M253.1 1929.10H269.6M238.6 1891.20H269.6M253.1 1853.30H269.6M238.6 1815.40H269.6" stroke="#000" stroke-width="4.0" fill="none"/>
<text transform="translate(219.0 1828.9) scale(1.100 1)" font-size="51.0" text-anchor="end" >4</text>
<text transform="translate(219.0 1904.7) scale(1.100 1)" font-size="51.0" text-anchor="end" >2</text>
<text transform="translate(219.0 1980.5) scale(1.100 1)" font-size="51.0" text-anchor="end" >0</text>
<text transform="translate(219.0 2056.3) scale(1.100 1)" font-size="51.0" text-anchor="end" >2</text>
<text transform="translate(166.1 2056.3) scale(1.240 1)" font-size="51.0" text-anchor="start" >-</text>
<text transform="translate(219.0 2132.1) scale(1.100 1)" font-size="51.0" text-anchor="end" >4</text>
<text transform="translate(166.1 2132.1) scale(1.240 1)" font-size="51.0" text-anchor="start" >-</text>
<text transform="translate(279.0 2203.6) scale(1.100 1)" font-size="51.0" text-anchor="middle" >8</text>
<text transform="translate(242.4 2203.6) scale(1.240 1)" font-size="51.0" text-anchor="start" >-</text>
<text transform="translate(404.9 2203.6) scale(1.100 1)" font-size="51.0" text-anchor="middle" >7</text>
<text transform="translate(368.3 2203.6) scale(1.240 1)" font-size="51.0" text-anchor="start" >-</text>
<text transform="translate(530.7 2203.6) scale(1.100 1)" font-size="51.0" text-anchor="middle" >6</text>
<text transform="translate(494.1 2203.6) scale(1.240 1)" font-size="51.0" text-anchor="start" >-</text>
<text transform="translate(656.6 2203.6) scale(1.100 1)" font-size="51.0" text-anchor="middle" >5</text>
<text transform="translate(620.0 2203.6) scale(1.240 1)" font-size="51.0" text-anchor="start" >-</text>
<text transform="translate(782.5 2203.6) scale(1.100 1)" font-size="51.0" text-anchor="middle" >4</text>
<text transform="translate(745.9 2203.6) scale(1.240 1)" font-size="51.0" text-anchor="start" >-</text>
<text transform="translate(908.3 2203.6) scale(1.100 1)" font-size="51.0" text-anchor="middle" >3</text>
<text transform="translate(871.7 2203.6) scale(1.240 1)" font-size="51.0" text-anchor="start" >-</text>
<text transform="translate(1034.2 2203.6) scale(1.100 1)" font-size="51.0" text-anchor="middle" >2</text>
<text transform="translate(997.6 2203.6) scale(1.240 1)" font-size="51.0" text-anchor="start" >-</text>
<text transform="translate(1160.0 2203.6) scale(1.100 1)" font-size="51.0" text-anchor="middle" >1</text>
<text transform="translate(1123.4 2203.6) scale(1.240 1)" font-size="51.0" text-anchor="start" >-</text>
<text transform="translate(1276.5 2203.6) scale(1.100 1)" font-size="51.0" text-anchor="middle" >0</text>
<text transform="translate(1402.4 2203.6) scale(1.100 1)" font-size="51.0" text-anchor="middle" >1</text>
<text transform="translate(1528.2 2203.6) scale(1.100 1)" font-size="51.0" text-anchor="middle" >2</text>
<text transform="translate(1654.1 2203.6) scale(1.100 1)" font-size="51.0" text-anchor="middle" >3</text>
<text transform="translate(1779.9 2203.6) scale(1.100 1)" font-size="51.0" text-anchor="middle" >4</text>
<text transform="translate(1905.8 2203.6) scale(1.100 1)" font-size="51.0" text-anchor="middle" >5</text>
<text transform="translate(2031.7 2203.6) scale(1.100 1)" font-size="51.0" text-anchor="middle" >6</text>
<text transform="translate(2157.5 2203.6) scale(1.100 1)" font-size="51.0" text-anchor="middle" >7</text>
<text transform="translate(2283.4 2203.6) scale(1.100 1)" font-size="51.0" text-anchor="middle" >8</text>
<rect x="1756.9" y="1833.6" width="457.3" height="114.4" fill="#fff" stroke="#222" stroke-width="2"/>
<path d="M1757.9 1949.3H2215.5V1834.6" fill="none" stroke="#444" stroke-width="1.5"/>
<line x1="1769.5" y1="1863.0" x2="1883.0" y2="1863.0" stroke="#008000" stroke-width="6.0" stroke-linecap="round"/>
<line x1="1769.5" y1="1921.9" x2="1883.0" y2="1921.9" stroke="#008080" stroke-width="6.0" stroke-linecap="round"/>
<text transform="translate(1896.7 1878.9) scale(1.061 1)" font-size="49.0" text-anchor="start" >Rh spin up</text>
<text transform="translate(1896.7 1936.2) scale(1.061 1)" font-size="49.0" text-anchor="start" >Rh spin down</text>
<text transform="translate(1276.0 2301.7) scale(1.107 1)" font-size="64.8" text-anchor="middle" >Energy (eV)</text>
<text transform="translate(70.8 1087) rotate(-90) scale(1 1.131)" font-size="65" text-anchor="middle">DOS (states/eV)</text>
</g></svg>
</body></html>
